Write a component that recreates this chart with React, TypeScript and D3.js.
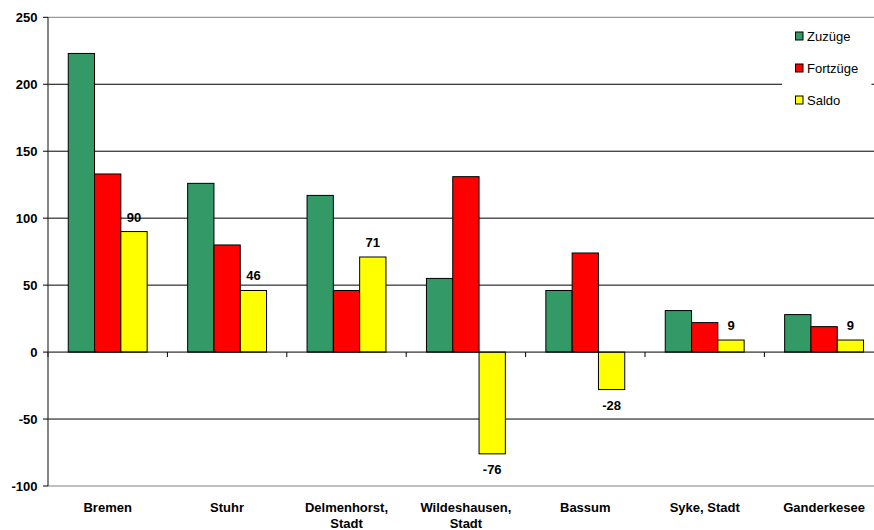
import React from "react";
import * as d3 from "d3";

const categories = ["Bremen", "Stuhr", "Delmenhorst,\nStadt", "Wildeshausen,\nStadt", "Bassum", "Syke, Stadt", "Ganderkesee"];
const seriesNames = ["Zuzüge", "Fortzüge", "Saldo"];
const zuzuege = [223, 126, 117, 55, 46, 31, 28];
const fortzuege = [133, 80, 46, 131, 74, 22, 19];
const saldo = [90, 46, 71, -76, -28, 9, 9];
const yTicks = [-100, -50, 0, 50, 100, 150, 200, 250];
const colors = ["#339966", "#FF0000", "#FFFF00"];

const W = 874, H = 530;
const left = 48, right = 48 + 7 * 119.4, top = 17.3, bottom = 486;
const font = "'Liberation Sans', Arial, sans-serif";

export default function App() {
  const series = [zuzuege, fortzuege, saldo];
  const y = d3.scaleLinear().domain([-100, 250]).range([bottom, top]);
  const x = d3.scaleBand<number>().domain(d3.range(categories.length)).range([left, right]).paddingInner(0).paddingOuter(0);
  const barW = 26.3;
  const inner = d3.scaleBand<number>().domain([0, 1, 2]).range([0, barW * 3]);
  const groupOffset = (x.bandwidth() - barW * 3) / 2;
  const y0 = y(0);
  return (
    <svg width={W} height={H} style={{ position: "absolute", left: 0, top: 0, background: "#fff" }} fontFamily={font}>
      <rect x={0} y={0} width={W} height={H} fill="#fff" />
      {yTicks.filter(t => t !== 0 && t !== 250 && t !== -100).map(t => (
        <line key={t} x1={left} x2={right} y1={y(t)} y2={y(t)} stroke="#000" strokeWidth={1} />
      ))}
      <line x1={left} x2={right} y1={y(250)} y2={y(250)} stroke="#808080" strokeWidth={1} />
      <line x1={left} x2={right} y1={y(-100)} y2={y(-100)} stroke="#808080" strokeWidth={1} />
      {series.map((vals, si) =>
        vals.map((v, ci) => {
          const bx = (x(ci) as number) + groupOffset + (inner(si) as number);
          const yTop = y(Math.max(0, v));
          const h = Math.abs(y(v) - y0);
          return <rect key={`${si}-${ci}`} x={bx} y={yTop} width={barW} height={h} fill={colors[si]} stroke="#000" strokeWidth={1} />;
        })
      )}
      {saldo.map((v, ci) => {
        const cx = (x(ci) as number) + groupOffset + (inner(2) as number) + barW / 2;
        const ty = v >= 0 ? y(v) - 10 : y(v) + 20;
        return <text key={ci} x={cx} y={ty} textAnchor="middle" fontSize={13} fontWeight="bold">{v}</text>;
      })}
      <line x1={left} x2={right} y1={y0} y2={y0} stroke="#000" strokeWidth={1} />
      {d3.range(categories.length + 1).map(i => {
        const tx = i < categories.length ? (x(i) as number) : right;
        return <line key={i} x1={tx} x2={tx} y1={y0} y2={y0 + 5} stroke="#000" />;
      })}
      <line x1={left} x2={left} y1={top} y2={bottom} stroke="#333" strokeWidth={1.2} />
      {yTicks.map(t => (
        <g key={t}>
          <line x1={left - 5} x2={left} y1={y(t)} y2={y(t)} stroke="#000" />
          <text x={37.5} y={y(t) + 4.7} textAnchor="end" fontSize={13} fontWeight="bold">{t}</text>
        </g>
      ))}
      {categories.map((c, ci) => {
        const cx = (x(ci) as number) + x.bandwidth() / 2;
        return (
          <text key={ci} textAnchor="middle" fontSize={13} fontWeight="bold">
            {c.split("\n").map((line, li) => (
              <tspan key={li} x={cx} y={511.5 + li * 16}>{line}</tspan>
            ))}
          </text>
        );
      })}
      <rect x={782} y={22} width={89.5} height={98} fill="#fff" />
      {seriesNames.map((n, i) => (
        <g key={n} transform={`translate(795, ${36 + i * 32})`}>
          <rect x={0.5} y={-4} width={7.5} height={8} fill={colors[i]} stroke="#000" strokeWidth={1} />
          <text x={12} y={4.7} fontSize={13}>{n}</text>
        </g>
      ))}
    </svg>
  );
}
